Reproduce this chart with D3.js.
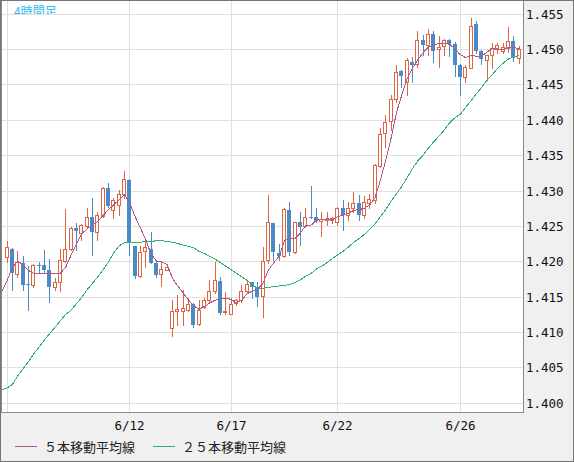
<!DOCTYPE html>
<html>
<head>
<meta charset="utf-8">
<script src="https://cdn.jsdelivr.net/npm/d3@7"></script>
<style>
  body { margin: 0; background: #fff; }
  svg { display: block; }
</style>
</head>
<body>
<svg id="chart"></svg>
<script>
// 4-hour candles, 6/8 .. 6/27, with 5 and 25 period moving averages

const title = "4時間足"

const open = [
  1.4206, 1.4218, 1.4182, 1.4197, 1.4168, 1.4166, 1.4195, 1.4195, 1.4188, 1.4164,
  1.4170, 1.4201, 1.4217, 1.4247, 1.4240, 1.4250, 1.4262, 1.4242, 1.4264, 1.4304,
  1.4273, 1.4280, 1.4295, 1.4315, 1.4221, 1.4179, 1.4214, 1.4218, 1.4198, 1.4182,
  1.4188, 1.4105, 1.4130, 1.4130, 1.4131, 1.4140, 1.4111, 1.4135, 1.4145, 1.4158,
  1.4172, 1.4128, 1.4126, 1.4141, 1.4145, 1.4158, 1.4170, 1.4164, 1.4151, 1.4202,
  1.4254, 1.4212, 1.4208, 1.4273, 1.4213, 1.4255, 1.4250, 1.4263, 1.4262, 1.4257,
  1.4258, 1.4258, 1.4256, 1.4275, 1.4266, 1.4276, 1.4283, 1.4265, 1.4282, 1.4287,
  1.4335, 1.4381, 1.4398, 1.4429, 1.4469, 1.4454, 1.4482, 1.4479, 1.4513, 1.4506,
  1.4521, 1.4500, 1.4504, 1.4513, 1.4507, 1.4478, 1.4460, 1.4474, 1.4535, 1.4497,
  1.4485, 1.4492, 1.4502, 1.4497, 1.4501, 1.4512, 1.4487
]
const high = [
  1.4229, 1.4219, 1.4215, 1.4207, 1.4193, 1.4196, 1.4199, 1.4216, 1.4203, 1.4176,
  1.4218, 1.4274, 1.4248, 1.4254, 1.4253, 1.4276, 1.4290, 1.4270, 1.4305, 1.4310,
  1.4289, 1.4301, 1.4328, 1.4316, 1.4222, 1.4221, 1.4232, 1.4241, 1.4199, 1.4199,
  1.4193, 1.4145, 1.4152, 1.4159, 1.4148, 1.4141, 1.4145, 1.4148, 1.4174, 1.4199,
  1.4178, 1.4157, 1.4148, 1.4147, 1.4166, 1.4174, 1.4171, 1.4170, 1.4220, 1.4294,
  1.4254, 1.4225, 1.4276, 1.4284, 1.4255, 1.4269, 1.4276, 1.4306, 1.4275, 1.4270,
  1.4270, 1.4263, 1.4277, 1.4287, 1.4284, 1.4298, 1.4294, 1.4292, 1.4295, 1.4338,
  1.4388, 1.4407, 1.4435, 1.4478, 1.4470, 1.4487, 1.4489, 1.4526, 1.4520, 1.4528,
  1.4526, 1.4518, 1.4515, 1.4515, 1.4510, 1.4479, 1.4478, 1.4544, 1.4540, 1.4499,
  1.4492, 1.4508, 1.4508, 1.4508, 1.4532, 1.4518, 1.4505
]
const low = [
  1.4199, 1.4160, 1.4178, 1.4159, 1.4131, 1.4164, 1.4185, 1.4185, 1.4143, 1.4159,
  1.4158, 1.4199, 1.4216, 1.4216, 1.4230, 1.4247, 1.4209, 1.4230, 1.4263, 1.4277,
  1.4261, 1.4265, 1.4289, 1.4209, 1.4176, 1.4178, 1.4192, 1.4197, 1.4178, 1.4165,
  1.4187, 1.4094, 1.4110, 1.4110, 1.4129, 1.4107, 1.4110, 1.4134, 1.4143, 1.4155,
  1.4125, 1.4126, 1.4126, 1.4138, 1.4143, 1.4155, 1.4148, 1.4137, 1.4121, 1.4197,
  1.4202, 1.4202, 1.4206, 1.4209, 1.4211, 1.4223, 1.4249, 1.4261, 1.4256, 1.4236,
  1.4251, 1.4254, 1.4251, 1.4244, 1.4258, 1.4270, 1.4259, 1.4261, 1.4275, 1.4282,
  1.4334, 1.4362, 1.4386, 1.4425, 1.4447, 1.4435, 1.4453, 1.4475, 1.4492, 1.4492,
  1.4482, 1.4475, 1.4492, 1.4490, 1.4462, 1.4435, 1.4454, 1.4473, 1.4494, 1.4479,
  1.4456, 1.4473, 1.4494, 1.4494, 1.4496, 1.4483, 1.4481
]
const close = [
  1.4220, 1.4183, 1.4199, 1.4167, 1.4167, 1.4194, 1.4194, 1.4187, 1.4164, 1.4170,
  1.4202, 1.4218, 1.4247, 1.4243, 1.4251, 1.4262, 1.4242, 1.4265, 1.4303, 1.4278,
  1.4287, 1.4295, 1.4316, 1.4227, 1.4179, 1.4213, 1.4220, 1.4198, 1.4181, 1.4189,
  1.4192, 1.4130, 1.4132, 1.4134, 1.4140, 1.4110, 1.4131, 1.4145, 1.4158, 1.4174,
  1.4127, 1.4129, 1.4140, 1.4145, 1.4158, 1.4168, 1.4164, 1.4150, 1.4201, 1.4255,
  1.4213, 1.4208, 1.4274, 1.4213, 1.4255, 1.4249, 1.4263, 1.4262, 1.4257, 1.4260,
  1.4260, 1.4261, 1.4275, 1.4265, 1.4276, 1.4283, 1.4266, 1.4284, 1.4288, 1.4336,
  1.4380, 1.4397, 1.4429, 1.4468, 1.4462, 1.4484, 1.4478, 1.4513, 1.4506, 1.4521,
  1.4498, 1.4503, 1.4513, 1.4507, 1.4478, 1.4460, 1.4475, 1.4533, 1.4497, 1.4486,
  1.4492, 1.4502, 1.4506, 1.4503, 1.4512, 1.4487, 1.4500
]

// moving averages start one bar before the first visible candle
const maStart = -1
const ma5 = [
  1.4157, 1.4173, 1.4192, 1.4200, 1.4195, 1.4187, 1.4183, 1.4183, 1.4182, 1.4182, 1.4182, 1.4183,
  1.4192, 1.4209, 1.4224, 1.4239, 1.4246, 1.4251, 1.4256, 1.4265, 1.4273, 1.4280,
  1.4287, 1.4294, 1.4282, 1.4263, 1.4247, 1.4230, 1.4210, 1.4200, 1.4199, 1.4195,
  1.4176, 1.4165, 1.4155, 1.4145, 1.4137, 1.4132, 1.4136, 1.4141, 1.4145, 1.4147,
  1.4148, 1.4146, 1.4141, 1.4145, 1.4154, 1.4158, 1.4161, 1.4169, 1.4188, 1.4198,
  1.4207, 1.4229, 1.4232, 1.4232, 1.4240, 1.4251, 1.4251, 1.4258, 1.4259, 1.4260,
  1.4259, 1.4263, 1.4265, 1.4268, 1.4272, 1.4273, 1.4275, 1.4280, 1.4290, 1.4315,
  1.4343, 1.4374, 1.4410, 1.4435, 1.4458, 1.4473, 1.4485, 1.4495, 1.4503, 1.4506,
  1.4508, 1.4508, 1.4507, 1.4500, 1.4492, 1.4488, 1.4491, 1.4490, 1.4490, 1.4496,
  1.4501, 1.4499, 1.4500, 1.4502, 1.4502, 1.4501
]
const ma25 = [
  1.4018, 1.4021, 1.4026, 1.4038, 1.4048, 1.4058, 1.4069, 1.4079, 1.4089, 1.4098,
  1.4107, 1.4116, 1.4125, 1.4131, 1.4140, 1.4149, 1.4160, 1.4169, 1.4178, 1.4188,
  1.4199, 1.4212, 1.4222, 1.4226, 1.4227, 1.4227, 1.4227, 1.4228, 1.4228, 1.4229,
  1.4229, 1.4228, 1.4227, 1.4225, 1.4223, 1.4221, 1.4219, 1.4214, 1.4211, 1.4207,
  1.4203, 1.4198, 1.4193, 1.4188, 1.4183, 1.4178, 1.4173, 1.4166, 1.4162, 1.4162,
  1.4163, 1.4164, 1.4165, 1.4166, 1.4167, 1.4170, 1.4174, 1.4179, 1.4183, 1.4189,
  1.4193, 1.4198, 1.4204, 1.4209, 1.4214, 1.4220, 1.4227, 1.4232, 1.4238, 1.4245,
  1.4253, 1.4263, 1.4273, 1.4285, 1.4295, 1.4306, 1.4318, 1.4331, 1.4342, 1.4350,
  1.4360, 1.4369, 1.4377, 1.4386, 1.4396, 1.4403, 1.4408, 1.4418, 1.4427, 1.4437,
  1.4446, 1.4456, 1.4464, 1.4473, 1.4480, 1.4486, 1.4489, 1.4491
]

// first bar of each day that gets a grid line, and its label
const dayIndex = [0, 23, 42, 62, 85]
const dayLabels = ["", "6/12", "6/17", "6/22", "6/26"]

const yTicks = [1.400, 1.405, 1.410, 1.415, 1.420, 1.425, 1.430, 1.435, 1.440, 1.445, 1.450, 1.455]

const legendNames = ["５本移動平均線", "２５本移動平均線"]
const legendColors = ["#b0588a", "#2fb074"]

const upColor = "#de6444"
const downColor = "#4a8ac6"

const width = 574
const height = 462
const plot = {left: 1.5, top: 0.5, right: 523.5, bottom: 412.5}

const x = d3.scaleLinear().domain([0, 85]).range([7.2, 460.4])
const y = d3.scaleLinear().domain([1.400, 1.455]).range([402.65, 13.8])
const px = i => Math.floor(x(i))
const py = v => Math.round(y(v))

const svg = d3.select("#chart")
  .attr("width", width)
  .attr("height", height)
  .attr("shape-rendering", "crispEdges")

svg.append("rect")
  .attr("width", width).attr("height", height)
  .attr("fill", "#f0f0f0")

svg.append("rect")
  .attr("x", plot.left).attr("y", plot.top)
  .attr("width", plot.right - plot.left).attr("height", plot.bottom - plot.top)
  .attr("fill", "#fff")
  .attr("stroke", "#8a8a8a")

const defs = svg.append("defs")
defs.append("clipPath").attr("id", "plotclip")
  .append("rect")
  .attr("x", plot.left + 0.5).attr("y", plot.top + 0.5)
  .attr("width", plot.right - plot.left - 1).attr("height", plot.bottom - plot.top - 1)
defs.append("clipPath").attr("id", "titleclip")
  .append("rect").attr("x", 0).attr("y", 0).attr("width", 200).attr("height", 14)

// grid
const grid = svg.append("g").attr("stroke", "#e0e0e0").attr("stroke-width", 1)
grid.selectAll("line.h")
  .data(yTicks)
  .join("line")
    .attr("class", "h")
    .attr("x1", plot.left + 0.5).attr("x2", plot.right - 0.5)
    .attr("y1", d => py(d) + 0.5).attr("y2", d => py(d) + 0.5)
grid.selectAll("line.v")
  .data(dayIndex)
  .join("line")
    .attr("class", "v")
    .attr("x1", d => px(d) + 0.5).attr("x2", d => px(d) + 0.5)
    .attr("y1", plot.top + 0.5).attr("y2", plot.bottom - 0.5)

// title, cut off by the first grid row like in the original
svg.append("text")
  .attr("clip-path", "url(#titleclip)")
  .attr("x", 14).attr("y", 15.5)
  .attr("font-family", "'Noto Sans CJK JP', sans-serif")
  .attr("font-size", 12)
  .attr("fill", "#33b9ee")
  .text(title)

// candles
const bars = d3.range(open.length).map(i => ({
  i, o: open[i], h: high[i], l: low[i], c: close[i], up: close[i] >= open[i]
}))

const body = svg.append("g").attr("clip-path", "url(#plotclip)")

const candle = body.selectAll("g.candle")
  .data(bars)
  .join("g")
    .attr("class", "candle")

candle.append("line")
  .attr("x1", d => px(d.i) + 0.5).attr("x2", d => px(d.i) + 0.5)
  .attr("y1", d => py(d.h)).attr("y2", d => py(d.l) + 1)
  .attr("stroke", d => d.up ? upColor : downColor)

candle.append("rect")
  .attr("x", d => d.up ? px(d.i) - 1.5 : px(d.i) - 2)
  .attr("y", d => d.up ? py(d.c) + 0.5 : py(d.o))
  .attr("width", d => d.up ? 3 : 4)
  .attr("height", d => {
    const hgt = Math.abs(py(d.o) - py(d.c))
    return d.up ? Math.max(hgt, 0) : Math.max(hgt, 1)
  })
  .attr("fill", d => d.up ? "#fff" : downColor)
  .attr("stroke", d => d.up ? upColor : "none")

// moving averages
const maLine = d3.line()
  .x((d, k) => x(k + maStart))
  .y(d => y(d))

body.append("path")
  .attr("d", maLine(ma25))
  .attr("fill", "none")
  .attr("stroke", legendColors[1])
  .attr("stroke-width", 1)

body.append("path")
  .attr("d", maLine(ma5))
  .attr("fill", "none")
  .attr("stroke", legendColors[0])
  .attr("stroke-width", 1)

// y labels on the right
svg.append("g")
  .attr("font-family", "'DejaVu Sans Mono', monospace")
  .attr("font-size", 12.5)
  .attr("fill", "#111")
  .selectAll("text")
  .data(yTicks)
  .join("text")
    .attr("x", 526)
    .attr("y", d => py(d) + 0.5)
    .attr("dy", "0.36em")
    .text(d => d3.format(".3f")(d))

// x labels under the plot
svg.append("g")
  .attr("font-family", "'DejaVu Sans Mono', monospace")
  .attr("font-size", 12.5)
  .attr("fill", "#111")
  .attr("text-anchor", "middle")
  .selectAll("text")
  .data(dayIndex)
  .join("text")
    .attr("x", d => px(d) + 0.5)
    .attr("y", 430)
    .text((d, k) => dayLabels[k])

// legend
const legendX = [15, 153]
const legend = svg.append("g")
legendNames.forEach((name, k) => {
  legend.append("line")
    .attr("x1", legendX[k]).attr("x2", legendX[k] + 22)
    .attr("y1", 446.5).attr("y2", 446.5)
    .attr("stroke", legendColors[k])
  legend.append("text")
    .attr("x", legendX[k] + 29).attr("y", 452)
    .attr("font-family", "'Noto Sans CJK JP', sans-serif")
    .attr("font-size", 13)
    .attr("fill", "#222")
    .text(name)
})

// outer frame
svg.append("rect")
  .attr("x", 0.5).attr("y", 0.5)
  .attr("width", width - 1).attr("height", height - 1)
  .attr("fill", "none")
  .attr("stroke", "#76766e")
</script>
</body>
</html>
